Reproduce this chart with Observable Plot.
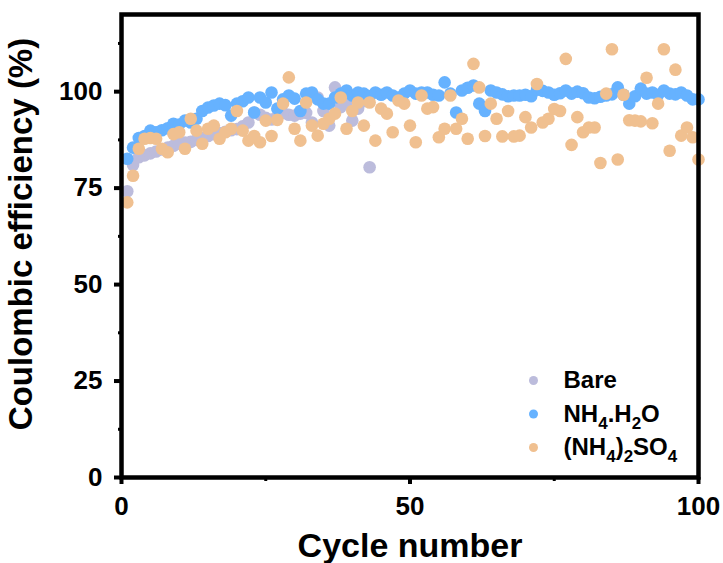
<!DOCTYPE html>
<html>
<head>
<meta charset="utf-8">
<script src="https://cdn.jsdelivr.net/npm/d3@7"></script>
<script src="https://cdn.jsdelivr.net/npm/@observablehq/plot@0.6"></script>
<style>
  html, body { margin: 0; padding: 0; background: #fff; }
  #chart { width: 723px; height: 563px; }
</style>
</head>
<body>
<div id="chart"></div>
<script>
// Coulombic efficiency (%) per cycle, starting at cycle 1
const bare = [74.2, 81, 83, 83.5, 84, 84.5, 85, 85.5, 86, 86.5,
  86.8, 87, 87.5, 88, 88.5, 89, 89.3, 89.6, 90, 90.3,
  91, 92, 94.6, 94, 93.2, 92.8, 93.5, 94.5, 94, 93.8,
  94.3, 94.5, 92, 98.5, 95, 91.2, 101.1, 96, 97, 92.5,
  95.6, 97.5, 80.4];

const nh4h2o = [82.6, 85.5, 88, 88.5, 89.9, 89.5, 90, 90.5, 91.7, 91.5,
  92.5, 92, 93, 95, 95.9, 96.4, 96.9, 96.5, 93.8, 96.9,
  97.5, 98.5, 94.6, 98.5, 97.2, 99.8, 95.6, 98, 99, 98.2,
  95, 99.5, 99.8, 98, 96.9, 96.9, 98.5, 99.5, 100.3, 99,
  99.8, 99.5, 98.8, 99.8, 99.2, 99.8, 99, 98.5, 99.5, 100.3,
  99.5, 99.8, 99.8, 99.2, 99, 102.4, 99.5, 94.6, 100.3, 101,
  101.6, 96.9, 95, 100.3, 99.8, 99.3, 98.8, 99, 99, 99.2,
  98.8, 100.5, 100.2, 99.8, 99.2, 99.6, 100.3, 99.5, 100, 99.6,
  98.5, 98.3, 98.7, 99, 99.3, 101.1, 99.2, 96.9, 98.8, 100.8,
  99.5, 99.8, 99.2, 100.3, 99.5, 99.3, 99.8, 99, 98, 98];

const nh4so4 = [71.3, 78.2, 85.2, 87.8, 88, 87.8, 85.2, 84.3, 89, 89.5,
  85.2, 93, 89.9, 86.5, 90.4, 91.2, 87.8, 89.5, 90.4, 95,
  89.9, 87.3, 88.5, 86.9, 92.5, 88.5, 92.7, 96.9, 103.7, 90.4,
  87.3, 97.2, 91.2, 88.6, 91.7, 93, 94.3, 98.5, 90.4, 95,
  97.2, 91.2, 97.2, 87.3, 95.6, 94.3, 89.5, 97.7, 96.9, 91.2,
  86.9, 99, 95.6, 96, 88.2, 90.4, 99, 90.4, 93, 87.8,
  107.2, 101.1, 88.5, 96.9, 93, 88.4, 95, 88.4, 88.6, 93.4,
  90.7, 102, 92, 93, 95.5, 95, 108.5, 86.2, 93.4, 89.5,
  90.7, 90.7, 81.5, 99.5, 111, 82.4, 99.2, 92.6, 92.5, 92.3,
  103.6, 91.8, 96.9, 111, 84.7, 105.7, 88.6, 90.7, 88.2, 82.4];

const seriesNames = ["Bare", "NH_4.H_2O", "(NH_4)_2SO_4"];
const seriesColors = ["#bcbcdc", "#66b2ff", "#f0c090"];
const xTicks = [0, 50, 100];
const xMinorTicks = [25, 75];
const yTicks = [0, 25, 50, 75, 100];
const yMinorTicks = [12.5, 37.5, 62.5, 87.5, 112.5];

const toRows = (arr, s) => arr.map((v, i) => ({cycle: i + 1, ce: v, series: s}));
const rows = [
  ...toRows(bare, seriesNames[0]),
  ...toRows(nh4h2o, seriesNames[1]),
  ...toRows(nh4so4, seriesNames[2])
];

const font = "Arial, 'Liberation Sans', sans-serif";
const legendFont = 24;

const legendMarks = seriesNames.flatMap((name, i) => [
  Plot.dot([name], {frameAnchor: "bottom-right", dx: -165, dy: -97 + i * 33.5, r: 4.5, fill: seriesColors[i]}),
  Plot.text([name], {frameAnchor: "bottom-right", dx: -135, dy: -97 + i * 33.5, text: d => d,
    textAnchor: "start", lineAnchor: "middle", fontSize: legendFont, fontWeight: "bold",
    fill: "black", className: "lg"})
]);

const chart = Plot.plot({
  width: 723,
  height: 563,
  marginLeft: 121,
  marginRight: 25,
  marginTop: 14,
  marginBottom: 86,
  style: {fontFamily: font, background: "white", overflow: "visible"},
  x: {domain: [0, 100]},
  y: {domain: [0, 120]},
  color: {domain: seriesNames, range: seriesColors},
  marks: [
    Plot.dot(rows, {x: "cycle", y: "ce", fill: "series", r: 6.3}),
    Plot.axisX({ticks: xTicks, tickSize: 7, strokeWidth: 4, tickPadding: 12, fontSize: 26, fontWeight: "bold", fill: "black", label: null}),
    Plot.axisX({ticks: xMinorTicks, tickSize: 4, strokeWidth: 3, text: null, label: null}),
    Plot.axisY({ticks: yTicks, tickSize: 7, strokeWidth: 4, tickPadding: 12, fontSize: 26, fontWeight: "bold", fill: "black", label: null}),
    Plot.axisY({ticks: yMinorTicks, tickSize: 3, strokeWidth: 3, text: null, label: null}),
    Plot.frame({stroke: "black", strokeWidth: 4.5}),
    Plot.text(["Cycle number"], {frameAnchor: "bottom", dy: 69, text: d => d, fontSize: 34, fontWeight: "bold", fill: "black", lineAnchor: "middle", textAnchor: "middle"}),
    Plot.text(["Coulombic efficiency (%)"], {frameAnchor: "left", dx: -100, dy: -12, rotate: -90, text: d => d, fontSize: 33, fontWeight: "bold", fill: "black", lineAnchor: "middle", textAnchor: "middle"}),
    ...legendMarks
  ]
});

// rich text: "_x" marks a subscript character
const subShift = Math.round(legendFont * 0.3);
const subSize = Math.round(legendFont * 0.72);
d3.select(chart).selectAll(".lg text").each(function() {
  const s = this.textContent;
  const segs = [];
  let buf = "";
  for (let i = 0; i < s.length; i++) {
    if (s[i] === "_" && i + 1 < s.length) {
      if (buf) { segs.push({t: buf, sub: false}); buf = ""; }
      segs.push({t: s[i + 1], sub: true});
      i++;
    } else buf += s[i];
  }
  if (buf) segs.push({t: buf, sub: false});
  const el = d3.select(this);
  el.text(null);
  let lowered = false;
  for (const sg of segs) {
    const ts = el.append("tspan").text(sg.t);
    if (sg.sub) {
      ts.attr("font-size", subSize);
      if (!lowered) { ts.attr("dy", subShift); lowered = true; }
    } else if (lowered) {
      ts.attr("dy", -subShift); lowered = false;
    }
  }
});

document.getElementById("chart").appendChild(chart);
</script>
</body>
</html>
